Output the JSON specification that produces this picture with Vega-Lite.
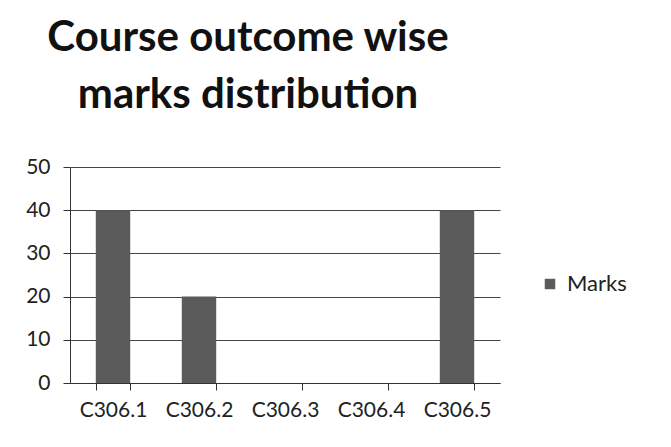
{
  "$schema": "https://vega.github.io/schema/vega-lite/v6.json",
  "autosize": {"type": "none"},
  "width": 430,
  "height": 216,
  "padding": {"left": 70, "top": 167, "right": 171, "bottom": 64},
  "background": "white",
  "title": {
    "text": ["Course outcome wise", "marks distribution"],
    "font": "Lato",
    "fontWeight": "bold",
    "fontSize": 42,
    "lineHeight": 57,
    "color": "#111111",
    "anchor": "middle",
    "align": "center",
    "dx": -37,
    "offset": 39
  },
  "data": {
    "values": [
      {"outcome": "C306.1", "series": "Marks", "marks": 40},
      {"outcome": "C306.2", "series": "Marks", "marks": 20},
      {"outcome": "C306.3", "series": "Marks", "marks": 0},
      {"outcome": "C306.4", "series": "Marks", "marks": 0},
      {"outcome": "C306.5", "series": "Marks", "marks": 40}
    ]
  },
  "mark": {"type": "bar"},
  "encoding": {
    "x": {
      "field": "outcome",
      "type": "nominal",
      "sort": null,
      "title": null,
      "scale": {"paddingInner": 0.6, "paddingOuter": 0.3},
      "axis": {
        "labelAngle": 0,
        "labelFont": "Lato",
        "labelFontSize": 21,
        "labelColor": "#222222",
        "labelPadding": 9,
        "tickBand": "extent",
        "tickSize": 7,
        "tickColor": "#333333",
        "domainColor": "#333333",
        "grid": false
      }
    },
    "y": {
      "field": "marks",
      "type": "quantitative",
      "title": null,
      "scale": {"domain": [0, 50]},
      "axis": {
        "values": [0, 10, 20, 30, 40, 50],
        "labelFont": "Lato",
        "labelFontSize": 21,
        "labelColor": "#222222",
        "labelPadding": 13,
        "tickSize": 7,
        "tickColor": "#333333",
        "domainColor": "#333333",
        "grid": true,
        "gridColor": "#444444",
        "gridWidth": 1.2
      }
    },
    "color": {
      "field": "series",
      "type": "nominal",
      "scale": {"range": ["#5b5b5b"]},
      "legend": {
        "title": null,
        "orient": "none",
        "legendX": 469,
        "legendY": 106,
        "symbolType": "square",
        "symbolSize": 110,
        "symbolStrokeWidth": 0,
        "labelFont": "Lato",
        "labelFontSize": 22,
        "labelColor": "#222222",
        "labelOffset": 6
      }
    }
  },
  "config": {"view": {"stroke": null}}
}
